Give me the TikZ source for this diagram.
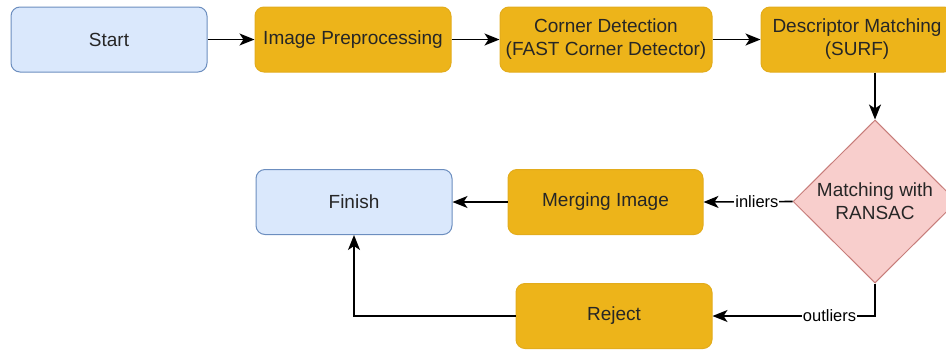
\documentclass[tikz,border=0pt]{standalone}
\usepackage{fontspec}
\setmainfont{Liberation Sans}
\usetikzlibrary{arrows.meta}
\usetikzlibrary{shapes.geometric}

\definecolor{termfill}{HTML}{DAE8FC}
\definecolor{termline}{HTML}{6C8EBF}
\definecolor{procfill}{HTML}{EDB41A}
\definecolor{procline}{HTML}{E3AC1C}
\definecolor{decfill}{HTML}{F8CECC}
\definecolor{decline}{HTML}{C77D7A}

\tikzset{
  boxtext/.style={font=\fontsize{19}{23}\selectfont, align=center, text=black!85},
  term/.style={boxtext, draw=termline, fill=termfill, line width=1pt, rounded corners=9pt,
    minimum width=196pt, minimum height=65pt, inner sep=0pt},
  proc/.style={boxtext, draw=procline, fill=procfill, line width=1pt, rounded corners=9pt,
    minimum height=65pt, inner sep=0pt},
  decide/.style={boxtext, diamond, draw=decline, fill=decfill, line width=1pt,
    minimum width=164pt, minimum height=163pt, inner sep=0pt},
  flow/.style={-{Stealth[length=15pt,width=12pt,inset=4pt]}, line width=1.6pt},
  edgelabel/.style={font=\fontsize{16.5}{18}\selectfont, fill=white, inner sep=1pt}
}

\begin{document}
\begin{tikzpicture}[x=1pt,y=-1pt]
            \useasboundingbox (0,0) rectangle (946,349);

            \node[term] (start) at (109,39.5) {Start};
            \node[proc, minimum width=196pt] (prep) at (353,39.5) {Image Preprocessing};
            \node[proc, minimum width=212pt] (corner) at (606,39.5) {Corner Detection\\(FAST Corner Detector)};
            \node[proc, minimum width=192pt] (descr) at (857,39.5) {Descriptor Matching\\(SURF)};
            \node[decide] (ransac) at (875,201.5) {Matching with\\RANSAC};
            \node[proc, minimum width=195pt] (merge) at (605.5,202) {Merging Image};
            \node[term] (finish) at (354,202) {Finish};
            \node[proc, minimum width=196pt] (reject) at (614,316) {Reject};

            \draw[flow] (start) -- (prep);
            \draw[flow] (prep) -- (corner);
            \draw[flow] (corner) -- (descr);
            \draw[flow] (descr.south -| ransac.north) -- (ransac.north);
            \draw[flow] (ransac.west) -- node[edgelabel, pos=0.4] {inliers} (merge.east);
            \draw[flow] (ransac.south) |- node[edgelabel, pos=0.64] {outliers} (reject.east);
            \draw[flow] (merge) -- (finish);
            \draw[flow] (reject.west) -| (finish.south);
        \end{tikzpicture}
\end{document}
